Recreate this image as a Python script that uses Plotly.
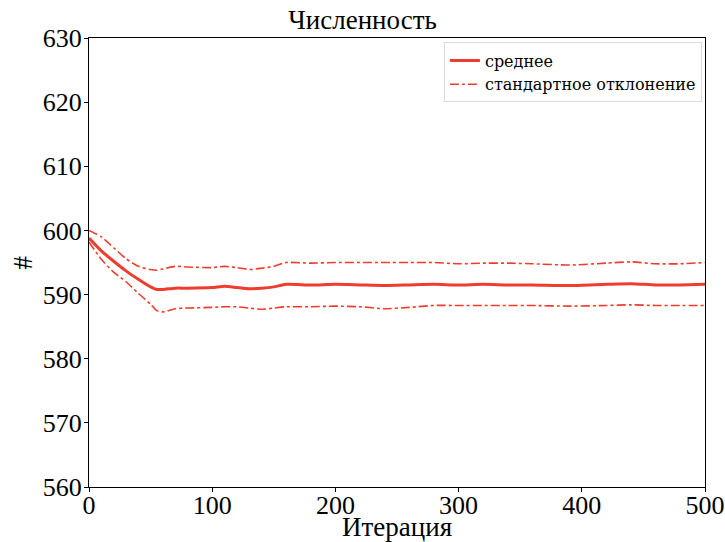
import plotly.graph_objects as go

iterations = [0, 10, 20, 30, 40, 50, 55, 60, 70, 80, 100, 110, 120, 130, 140, 150, 160, 180, 200, 220, 240, 260, 280, 300, 320, 340, 360, 390, 420, 440, 460, 480, 500]
mean_vals = [598.8, 596.8, 595.2, 593.7, 592.4, 591.2, 590.8, 590.8, 591.0, 591.0, 591.1, 591.3, 591.1, 590.9, 591.0, 591.2, 591.6, 591.5, 591.6, 591.5, 591.4, 591.5, 591.6, 591.5, 591.6, 591.5, 591.5, 591.4, 591.6, 591.7, 591.5, 591.5, 591.6]
upper_vals = [600.0, 599.0, 597.3, 595.6, 594.4, 593.9, 593.8, 594.0, 594.4, 594.3, 594.2, 594.4, 594.2, 593.9, 594.1, 594.4, 595.0, 594.9, 595.0, 595.0, 595.0, 595.0, 595.0, 594.8, 594.9, 594.9, 594.8, 594.6, 594.9, 595.1, 594.8, 594.8, 595.0]
lower_vals = [598.2, 595.5, 593.5, 592.0, 590.2, 588.5, 587.5, 587.3, 587.8, 587.9, 588.0, 588.1, 588.1, 587.9, 587.7, 587.9, 588.1, 588.1, 588.2, 588.1, 587.8, 588.0, 588.3, 588.3, 588.3, 588.3, 588.3, 588.2, 588.3, 588.4, 588.3, 588.3, 588.3]

color = "#f03c2c"
fig = go.Figure()
fig.add_trace(go.Scatter(x=iterations, y=mean_vals, mode="lines", name="среднее",
                         line=dict(color=color, width=3, shape="spline", smoothing=0.6)))
fig.add_trace(go.Scatter(x=iterations, y=upper_vals, mode="lines", name="стандартное отклонение",
                         line=dict(color=color, width=1.6, dash="dashdot", shape="spline", smoothing=0.6)))
fig.add_trace(go.Scatter(x=iterations, y=lower_vals, mode="lines", name="стандартное отклонение",
                         showlegend=False,
                         line=dict(color=color, width=1.6, dash="dashdot", shape="spline", smoothing=0.6)))

font_family = "Liberation Serif, DejaVu Serif, serif"
W, H = 725, 542
L, R, T, B = 89, 20, 38, 55
plot_w, plot_h = W - L - R, H - T - B
fig.update_layout(
    width=W, height=H,
    margin=dict(l=L, r=R, t=T, b=B),
    paper_bgcolor="white", plot_bgcolor="white",
    font=dict(family=font_family, color="black"),
    title=dict(text="Численность", x=0.5, xanchor="center", y=1 - 20/H, yanchor="middle",
               font=dict(size=27, family=font_family)),
    legend=dict(x=0.995, y=0.99, xanchor="right", yanchor="top",
                bgcolor="rgba(255,255,255,0.9)", bordercolor="#dddddd", borderwidth=1,
                font=dict(size=16, family="DejaVu Serif, serif"), tracegroupgap=0),
    xaxis=dict(range=[0, 500], tickvals=[0, 100, 200, 300, 400, 500], automargin=False,
               showgrid=False, zeroline=False, showline=True, linecolor="black", linewidth=1.3,
               mirror=True, ticks="outside", ticklen=4, tickcolor="black",
               tickfont=dict(size=26), ticklabelstandoff=-9),
    yaxis=dict(range=[560, 630], tickvals=[560, 570, 580, 590, 600, 610, 620, 630], automargin=False,
               showgrid=False, zeroline=False, showline=True, linecolor="black", linewidth=1.3,
               mirror=True, ticks="outside", ticklen=4, tickcolor="black",
               tickfont=dict(size=26), ticklabelstandoff=-3),
    annotations=[
        dict(text="Итерация", xref="paper", yref="paper", x=0.5, y=-(527 - (H - B)) / plot_h,
             xanchor="center", yanchor="middle", showarrow=False, font=dict(size=27)),
        dict(text="#", xref="paper", yref="paper", x=(22 - L) / plot_w, y=0.5,
             xanchor="center", yanchor="middle", showarrow=False, textangle=-90, font=dict(size=27)),
    ],
)
fig.write_html("out.html", config={"displayModeBar": False},
               post_script="document.body.style.margin='0';document.body.style.overflow='hidden';")
